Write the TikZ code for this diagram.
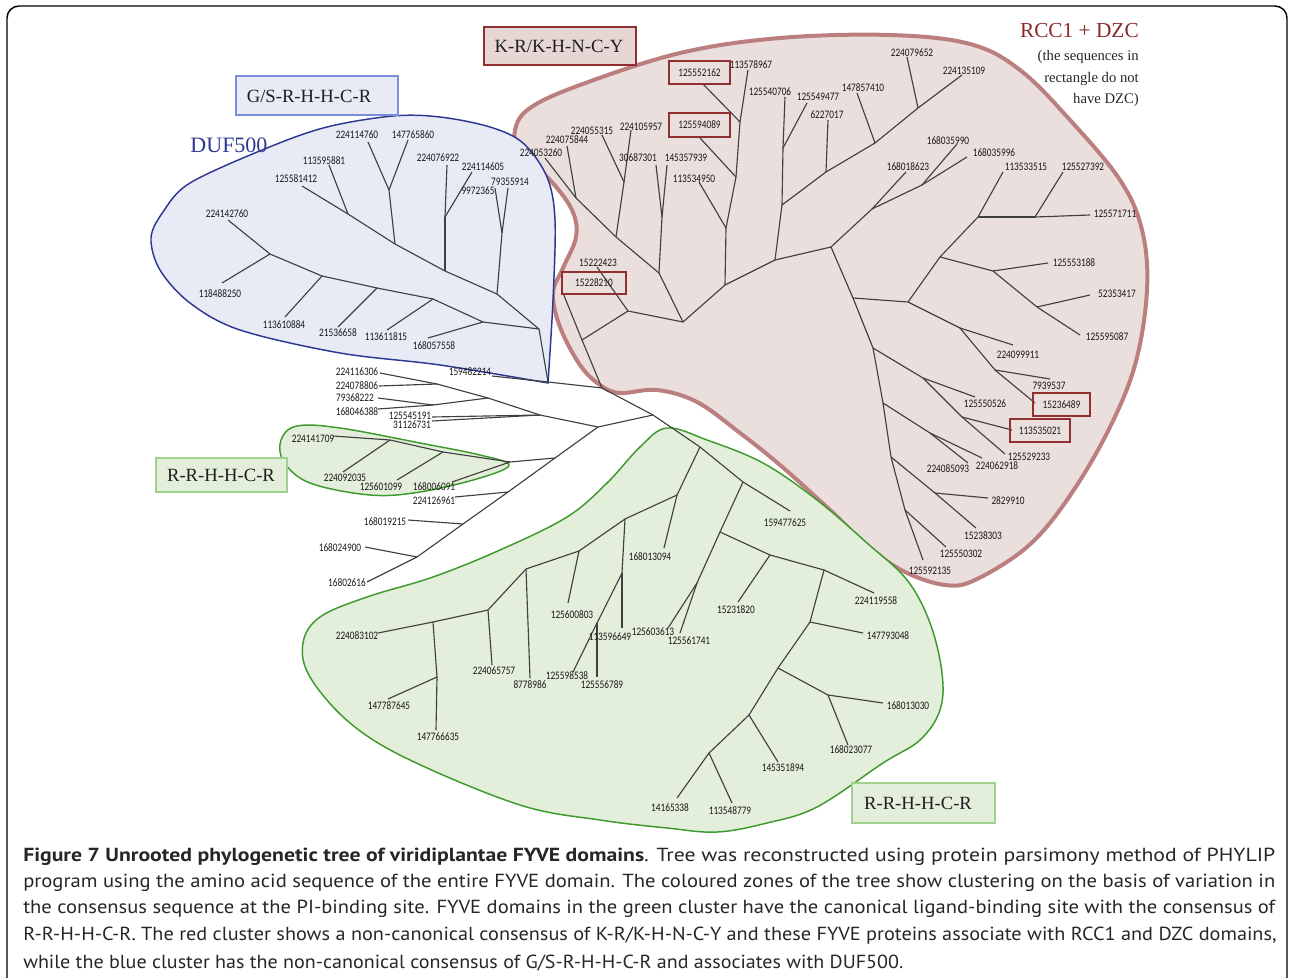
\documentclass[tikz,border=0pt]{standalone}
\usepackage{fontspec}
\usepackage{graphicx}
\setmainfont{Liberation Serif}
\newfontfamily\lblfont[FakeStretch=0.81]{Carlito}
\newfontfamily\capfont{PT Sans}
\definecolor{bluefillc}{HTML}{E8EBF6}
\definecolor{bluelinec}{HTML}{2B3990}
\definecolor{blueboxc}{HTML}{7C8EDB}
\definecolor{redfillc}{HTML}{EADFDD}
\definecolor{redlinec}{HTML}{BC7F7F}
\definecolor{redboxc}{HTML}{8E3030}
\definecolor{redtextc}{HTML}{8B2A2A}
\definecolor{krfillc}{HTML}{E6D7D4}
\definecolor{greenfillc}{HTML}{E3EEDB}
\definecolor{greenlinec}{HTML}{3E9A2C}
\definecolor{greenboxc}{HTML}{9FD18F}
\definecolor{branchc}{HTML}{404040}
\begin{document}
\begin{tikzpicture}[x=0.75pt,y=-0.75pt,
  br/.style={draw=branchc, line width=0.85pt},
  lbl/.style={font=\lblfont\fontsize{8.6}{10}\selectfont, inner sep=0pt, text=black!90},
  rbox/.style={lbl, draw=redboxc, line width=1.4pt},
  clab/.style={font=\fontsize{14}{16}\selectfont, inner sep=0pt, text=black!88},
  capline/.style={anchor=west, inner sep=0pt, font=\capfont\fontsize{14.2}{16}\selectfont, text=black!85}]
\useasboundingbox (0,0) rectangle (1289,978);
% frame
\draw[line width=1.1pt, rounded corners=9pt] (7,6) rectangle (1287,1010);

% ---------- cluster zones ----------
\path[fill=redfillc, draw=redlinec, line width=3pt] plot[smooth cycle, tension=0.6] coordinates {
 (520,153) (550,180) (572,210) (576,237) (563,268) (553,293) (560,327) (580,365) (600,385)
 (620,393) (657,390) (697,402) (740,433) (780,465) (830,510) (870,548) (905,572) (945,585)
 (975,580) (1027,547) (1067,500) (1107,433) (1135,365) (1147,290) (1142,230) (1120,180)
 (1070,120) (1020,70) (970,44) (890,35) (780,38) (680,53) (580,85) (530,108) (515,130)};
\path[fill=bluefillc, draw=bluelinec, line width=1.1pt] plot[smooth, tension=0.55] coordinates {
 (548,383) (440,365) (340,353) (240,330) (190,303) (160,270) (151,238) (163,212) (190,183)
 (267,148) (327,127) (393,116) (440,117) (490,127) (523,143) (547,177) (555,220) (553,300) (548,383)} -- cycle;
\path[fill=greenfillc, draw=greenlinec, line width=1.1pt] plot[smooth cycle, tension=0.6] coordinates {
 (303,643) (320,617) (367,597) (433,577) (500,550) (567,517) (607,483) (640,447) (667,428)
 (707,440) (763,463) (817,500) (867,543) (907,580) (930,623) (942,673) (940,710) (920,740)
 (883,763) (817,807) (767,823) (717,832) (667,828) (600,820) (520,805) (410,760) (350,723) (310,677)};
\path[fill=greenfillc, draw=greenlinec, line width=1.1pt] plot[smooth cycle, tension=0.6] coordinates {
 (281,440) (297,426) (340,428) (420,443) (480,455) (509,465) (480,478) (420,492) (370,495) (310,483) (284,462)};

% ---------- coordinates ----------
% blue
\coordinate (J0) at (548,382); \coordinate (B1) at (539,329); \coordinate (B2) at (497,294);
\coordinate (B3) at (483,322); \coordinate (B4) at (433,299); \coordinate (B4b) at (377,288);
\coordinate (B4c) at (322,276); \coordinate (B4d) at (270,254); \coordinate (B5) at (502,233);
\coordinate (B6) at (445,271); \coordinate (B7) at (445,217); \coordinate (B8) at (395,244);
\coordinate (B9) at (389,190); \coordinate (B10) at (348,214);
\coordinate (l168057558) at (428,338); \coordinate (l113611815) at (387,330);
\coordinate (l21536658) at (338,327); \coordinate (l113610884) at (285,317);
\coordinate (l118488250) at (222,283); \coordinate (l224142760) at (228,220);
\coordinate (l9972365) at (495,188); \coordinate (l79355914) at (508,188);
\coordinate (l224076922) at (447,165); \coordinate (l224114605) at (472,172);
\coordinate (l224114760) at (368,142); \coordinate (l147765860) at (408,140);
\coordinate (l113595881) at (329,165); \coordinate (l125581412) at (302,186);
% middle / left
\coordinate (l159482214) at (492,376); \coordinate (J1) at (602,388);
\coordinate (J2) at (653,415); \coordinate (J3) at (598,427);
\coordinate (Na) at (437,384); \coordinate (Nb) at (488,398); \coordinate (Nc) at (433,405);
\coordinate (Nd) at (540,415);
\coordinate (l224116306) at (380,373); \coordinate (l224078806) at (379,386);
\coordinate (l79368222) at (378,398); \coordinate (l168046388) at (378,409);
\coordinate (l125545191) at (432,417); \coordinate (l31126731) at (432,421);
\coordinate (Ne) at (555,458); \coordinate (Nf) at (508,492); \coordinate (Ng) at (463,524);
\coordinate (Nh) at (417,557); \coordinate (l16802616) at (367,582);
\coordinate (G0) at (510,462); \coordinate (G1) at (443,452); \coordinate (G2) at (390,440);
\coordinate (l168006091) at (452,482); \coordinate (l125601099) at (397,480);
\coordinate (l224141709) at (333,436); \coordinate (l224092035) at (343,472);
\coordinate (l224126961) at (455,497); \coordinate (l168019215) at (408,520);
\coordinate (l168024900) at (365,547);
% green
\coordinate (K1) at (700,447); \coordinate (K2) at (677,495); \coordinate (K3) at (743,482);
\coordinate (K4) at (720,532); \coordinate (K5) at (697,583); \coordinate (K6) at (770,555);
\coordinate (K7) at (824,570); \coordinate (K8) at (810,622); \coordinate (K9) at (778,668);
\coordinate (K10) at (828,695); \coordinate (K11) at (749,715); \coordinate (K12) at (709,753);
\coordinate (K13) at (625,519); \coordinate (K14) at (622,573); \coordinate (K15) at (579,551);
\coordinate (K16) at (597,623); \coordinate (K17) at (526,569); \coordinate (K18) at (488,610);
\coordinate (K19) at (433,622); \coordinate (K20) at (437,677);
\coordinate (l159477625) at (790,511); \coordinate (l125603613) at (668,628);
\coordinate (l125561741) at (680,633); \coordinate (l15231820) at (738,602);
\coordinate (l224119558) at (874,593); \coordinate (l147793048) at (863,633);
\coordinate (l168013030) at (883,703); \coordinate (l168023077) at (848,745);
\coordinate (l145351894) at (778,762); \coordinate (l14165338) at (677,798);
\coordinate (l113548779) at (732,803); \coordinate (l168013094) at (664,548);
\coordinate (l113596649) at (622,628); \coordinate (l125598538) at (573,672);
\coordinate (l125556789) at (597,677); \coordinate (l125600803) at (568,603);
\coordinate (l8778986) at (530,678); \coordinate (l224065757) at (492,665);
\coordinate (l224083102) at (378,633); \coordinate (l147787645) at (388,699);
\coordinate (l147766635) at (436,730);
% red
\coordinate (R1) at (582,340); \coordinate (R2) at (628,311); \coordinate (R3) at (683,322);
\coordinate (R4) at (659,273); \coordinate (R5) at (725,285); \coordinate (R6) at (616,237);
\coordinate (R7) at (662,217); \coordinate (R8) at (576,198); \coordinate (R9) at (624,182);
\coordinate (R10) at (726,228); \coordinate (R11) at (775,260); \coordinate (R12) at (736,177);
\coordinate (R13) at (740,122); \coordinate (R14) at (782,205); \coordinate (R15) at (831,247);
\coordinate (R16) at (783,148); \coordinate (R17) at (826,172); \coordinate (R18) at (875,143);
\coordinate (R19) at (918,108); \coordinate (R20) at (872,209); \coordinate (R21) at (853,298);
\coordinate (R22) at (908,302); \coordinate (R23) at (922,185); \coordinate (R24) at (940,257);
\coordinate (R25) at (960,328); \coordinate (R26) at (978,217); \coordinate (R27) at (993,271);
\coordinate (R28) at (1035,217); \coordinate (R29) at (1037,307); \coordinate (R30) at (995,370);
\coordinate (R31) at (873,348); \coordinate (R32) at (923,378); \coordinate (R33) at (883,403);
\coordinate (R34) at (962,417); \coordinate (R35) at (930,433); \coordinate (R36) at (891,457);
\coordinate (R37) at (935,493); \coordinate (R38) at (905,510);
\coordinate (l15228210) at (563,293); \coordinate (l15222423) at (597,267);
\coordinate (l30687301) at (656,165); \coordinate (l145357939) at (667,165);
\coordinate (l224055315) at (602,135); \coordinate (l224105957) at (631,130);
\coordinate (l224075844) at (567,146); \coordinate (l224053260) at (545,158);
\coordinate (l113534950) at (699,182); \coordinate (l125594089) at (700,138);
\coordinate (l125552162) at (703,84); \coordinate (l113578967) at (748,70);
\coordinate (l125540706) at (785,97); \coordinate (l125549477) at (807,103);
\coordinate (l6227017) at (828,120); \coordinate (l147857410) at (857,93);
\coordinate (l224079652) at (907,57); \coordinate (l224135109) at (962,75);
\coordinate (l168018623) at (906,172); \coordinate (l168035990) at (957,144);
\coordinate (l168035996) at (967,157); \coordinate (l113533515) at (1003,172);
\coordinate (l125527392) at (1063,172); \coordinate (l125571711) at (1090,215);
\coordinate (l125553188) at (1048,263); \coordinate (l52353417) at (1090,295);
\coordinate (l125595087) at (1080,335); \coordinate (l224099911) at (1013,345);
\coordinate (l7939537) at (1050,379); \coordinate (l15236489) at (1035,403);
\coordinate (l125550526) at (975,397); \coordinate (l113535021) at (1012,430);
\coordinate (l125529233) at (1005,454); \coordinate (l224085093) at (968,463);
\coordinate (l224062918) at (982,458); \coordinate (l2829910) at (988,498);
\coordinate (l15238303) at (976,528); \coordinate (l125550302) at (946,547);
\coordinate (l125592135) at (923,560);

% ---------- branches ----------
\foreach \a/\b in {J0/B1, B1/B2, B1/B3, B3/l168057558, B3/B4, B4/l113611815, B4/B4b,
  B4b/l21536658, B4b/B4c, B4c/l113610884, B4c/B4d, B4d/l118488250, B4d/l224142760,
  B2/B5, B5/l9972365, B5/l79355914, B2/B6, B6/B7, B7/l224076922, B7/l224114605,
  B6/B8, B8/B9, B9/l224114760, B9/l147765860, B8/B10, B10/l113595881, B10/l125581412,
  J0/l159482214, J0/J1, J1/J2, J2/J3, J1/R1, J2/K1,
  J3/Nd, Nd/Nb, Nb/Na, Na/l224116306, Na/l224078806, Nb/Nc, Nc/l79368222, Nc/l168046388,
  Nd/l125545191, Nd/l31126731, J3/Ne, Ne/Nf, Nf/Ng, Ng/Nh, Nh/l16802616, Ne/G0,
  G0/G1, G0/l168006091, G1/G2, G1/l125601099, G2/l224141709, G2/l224092035,
  Nf/l224126961, Ng/l168019215, Nh/l168024900}
  \draw[br] (\a) -- (\b);
\foreach \a/\b in {K1/K2, K1/K3, K3/l159477625, K3/K4, K4/K5, K4/K6, K5/l125603613,
  K5/l125561741, K6/l15231820, K6/K7, K7/l224119558, K7/K8, K8/l147793048, K8/K9,
  K9/K10, K9/K11, K10/l168013030, K10/l168023077, K11/l145351894, K11/K12,
  K12/l14165338, K12/l113548779, K2/l168013094, K2/K13, K13/K14, K13/K15,
  K14/l113596649, K14/K16, K16/l125598538, K16/l125556789, K15/l125600803, K15/K17,
  K17/l8778986, K17/K18, K18/l224065757, K18/K19, K19/l224083102, K19/K20,
  K20/l147787645, K20/l147766635}
  \draw[br] (\a) -- (\b);
\foreach \a/\b in {R1/l15228210, R1/R2, R2/l15222423, R2/R3, R3/R4, R3/R5, R4/R6, R4/R7,
  R7/l30687301, R7/l145357939, R6/R8, R6/R9, R9/l224055315, R9/l224105957,
  R8/l224075844, R8/l224053260, R5/R10, R5/R11, R10/l113534950, R10/R12,
  R12/l125594089, R12/R13, R13/l125552162, R13/l113578967, R11/R14, R11/R15,
  R14/R16, R14/R17, R16/l125540706, R16/l125549477, R17/l6227017, R17/R18,
  R18/l147857410, R18/R19, R19/l224079652, R19/l224135109, R15/R20, R15/R21,
  R20/l168018623, R20/R23, R23/l168035990, R23/l168035996, R21/R22, R21/R31,
  R22/R24, R22/R25, R24/R26, R24/R27, R26/l113533515, R26/R28, R28/l125527392,
  R28/l125571711, R27/l125553188, R27/R29, R29/l52353417, R29/l125595087,
  R25/l224099911, R25/R30, R30/l7939537, R30/l15236489, R31/R32, R31/R33,
  R32/l125550526, R32/R34, R34/l113535021, R34/l125529233, R33/R35, R33/R36,
  R35/l224085093, R35/l224062918, R36/R37, R36/R38, R37/l2829910, R37/l15238303,
  R38/l125550302, R38/l125592135}
  \draw[br] (\a) -- (\b);

% ---------- leaf labels ----------
% blue
\node[lbl] (t168057558) at (434,346) {168057558};
\node[lbl] (t113611815) at (386,337) {113611815};
\node[lbl] (t21536658) at (338,333) {21536658};
\node[lbl] (t113610884) at (284,325) {113610884};
\node[lbl] (t118488250) at (220,294) {118488250};
\node[lbl] (t224142760) at (227,214) {224142760};
\node[lbl] (t9972365) at (478,191) {9972365};
\node[lbl] (t79355914) at (510,182) {79355914};
\node[lbl] (t224076922) at (438,158) {224076922};
\node[lbl] (t224114605) at (483,167) {224114605};
\node[lbl] (t224114760) at (357,135) {224114760};
\node[lbl] (t147765860) at (413,135) {147765860};
\node[lbl] (t113595881) at (324,161) {113595881};
\node[lbl] (t125581412) at (296,179) {125581412};
% middle / left
\node[lbl] (t159482214) at (470,372) {159482214};
\node[lbl] (t224116306) at (357,372) {224116306};
\node[lbl] (t224078806) at (357,386) {224078806};
\node[lbl] (t79368222) at (355,398) {79368222};
\node[lbl] (t168046388) at (357,412) {168046388};
\node[lbl] (t125545191) at (410,416) {125545191};
\node[lbl] (t31126731) at (412,425) {31126731};
\node[lbl] (t224141709) at (313,439) {224141709};
\node[lbl] (t224092035) at (345,478) {224092035};
\node[lbl] (t125601099) at (381,487) {125601099};
\node[lbl] (t168006091) at (434,487) {168006091};
\node[lbl] (t224126961) at (434,501) {224126961};
\node[lbl] (t168019215) at (385,522) {168019215};
\node[lbl] (t168024900) at (340,548) {168024900};
\node[lbl] (t16802616) at (347,583) {16802616};
% green
\node[lbl] (t159477625) at (785,523) {159477625};
\node[lbl] (t125603613) at (653,632) {125603613};
\node[lbl] (t125561741) at (689,641) {125561741};
\node[lbl] (t15231820) at (736,610) {15231820};
\node[lbl] (t224119558) at (876,601) {224119558};
\node[lbl] (t147793048) at (888,636) {147793048};
\node[lbl] (t168013030) at (908,706) {168013030};
\node[lbl] (t168023077) at (851,750) {168023077};
\node[lbl] (t145351894) at (783,768) {145351894};
\node[lbl] (t14165338) at (670,808) {14165338};
\node[lbl] (t113548779) at (730,811) {113548779};
\node[lbl] (t168013094) at (650,557) {168013094};
\node[lbl] (t113596649) at (610,637) {113596649};
\node[lbl] (t125598538) at (567,676) {125598538};
\node[lbl] (t125556789) at (602,685) {125556789};
\node[lbl] (t125600803) at (572,615) {125600803};
\node[lbl] (t8778986) at (530,685) {8778986};
\node[lbl] (t224065757) at (494,671) {224065757};
\node[lbl] (t224083102) at (357,636) {224083102};
\node[lbl] (t147787645) at (389,706) {147787645};
\node[lbl] (t147766635) at (438,737) {147766635};
% red
\node[rbox, minimum width=48pt, minimum height=16.5pt] (t15228210) at (594,283) {15228210};
\node[lbl] (t15222423) at (598,263) {15222423};
\node[lbl] (t30687301) at (638,158) {30687301};
\node[lbl] (t145357939) at (686,158) {145357939};
\node[lbl] (t224055315) at (592,131) {224055315};
\node[lbl] (t224105957) at (641,127) {224105957};
\node[lbl] (t224075844) at (567,140) {224075844};
\node[lbl] (t224053260) at (541,153) {224053260};
\node[lbl] (t113534950) at (694,179) {113534950};
\node[rbox, minimum width=45.75pt, minimum height=17.5pt] (t125594089) at (699.5,125) {125594089};
\node[rbox, minimum width=45.75pt, minimum height=17.25pt] (t125552162) at (699.5,72.5) {125552162};
\node[lbl] (t113578967) at (751,65) {113578967};
\node[lbl] (t125540706) at (770,92) {125540706};
\node[lbl] (t125549477) at (818,97) {125549477};
\node[lbl] (t6227017) at (827,115) {6227017};
\node[lbl] (t147857410) at (863,88) {147857410};
\node[lbl] (t224079652) at (912,53) {224079652};
\node[lbl] (t224135109) at (964,71) {224135109};
\node[lbl] (t168018623) at (908,167) {168018623};
\node[lbl] (t168035990) at (948,141) {168035990};
\node[lbl] (t168035996) at (994,153) {168035996};
\node[lbl] (t113533515) at (1026,167) {113533515};
\node[lbl] (t125527392) at (1083,167) {125527392};
\node[lbl] (t125571711) at (1115,214) {125571711};
\node[lbl] (t125553188) at (1074,263) {125553188};
\node[lbl] (t52353417) at (1117,294) {52353417};
\node[lbl] (t125595087) at (1107,337) {125595087};
\node[lbl] (t224099911) at (1018,355) {224099911};
\node[lbl] (t7939537) at (1049,386) {7939537};
\node[rbox, minimum width=42.75pt, minimum height=17.25pt] (t15236489) at (1061.5,404.5) {15236489};
\node[lbl] (t125550526) at (985,404) {125550526};
\node[rbox, minimum width=45pt, minimum height=17.25pt] (t113535021) at (1040,430.5) {113535021};
\node[lbl] (t125529233) at (1029,457) {125529233};
\node[lbl] (t224085093) at (948,469) {224085093};
\node[lbl] (t224062918) at (997,466) {224062918};
\node[lbl] (t2829910) at (1008,501) {2829910};
\node[lbl] (t15238303) at (983,536) {15238303};
\node[lbl] (t125550302) at (961,554) {125550302};
\node[lbl] (t125592135) at (930,571) {125592135};

% ---------- cluster captions ----------
\node[draw=blueboxc, fill=bluefillc, line width=1.2pt, minimum width=121.5pt, minimum height=29.25pt] (gsbox) at (317,95.5) {};
\node[clab] (gstext) at (309,96) {G/S-R-H-H-C-R};
\node[font=\fontsize{16.5}{18}\selectfont, text=bluelinec, inner sep=0pt] (duf) at (229,145) {DUF500};
\node[draw=redboxc, fill=krfillc, line width=1.4pt, minimum width=114pt, minimum height=28.5pt] (krbox) at (560,46) {};
\node[clab] (krtext) at (559,46) {K-R/K-H-N-C-Y};
\node[font=\fontsize{16}{18}\selectfont, text=redtextc, inner sep=0pt, anchor=east] (rcc) at (1139,31) {RCC1 + DZC};
\node[font=\fontsize{11}{13}\selectfont, text=black!85, inner sep=0pt, anchor=east] (rcc1) at (1139,57) {(the sequences in};
\node[font=\fontsize{11}{13}\selectfont, text=black!85, inner sep=0pt, anchor=east] (rcc2) at (1139,79) {rectangle do not};
\node[font=\fontsize{11}{13}\selectfont, text=black!85, inner sep=0pt, anchor=east] (rcc3) at (1139,100) {have DZC)};
\node[draw=greenboxc, fill=greenfillc, line width=1.2pt, minimum width=98.25pt, minimum height=25.5pt] (rrbox1) at (221.5,475) {};
\node[clab] (rrtext1) at (221,475) {R-R-H-H-C-R};
\node[draw=greenboxc, fill=greenfillc, line width=1.2pt, minimum width=107.25pt, minimum height=30pt] (rrbox2) at (923.5,803) {};
\node[clab] (rrtext2) at (918,803) {R-R-H-H-C-R};

% ---------- figure caption ----------
\node[capline] (cap1) at (23,857) {\resizebox{939pt}{\height}{\textbf{Figure 7 Unrooted phylogenetic tree of viridiplantae FYVE domains}. Tree was reconstructed using protein parsimony method of PHYLIP}};
\node[capline] (cap2) at (23,883) {\resizebox{939pt}{\height}{program using the amino acid sequence of the entire FYVE domain. The coloured zones of the tree show clustering on the basis of variation in}};
\node[capline] (cap3) at (23,909) {\resizebox{939pt}{\height}{the consensus sequence at the PI-binding site. FYVE domains in the green cluster have the canonical ligand-binding site with the consensus of}};
\node[capline] (cap4) at (23,936) {\resizebox{940pt}{\height}{R-R-H-H-C-R. The red cluster shows a non-canonical consensus of K-R/K-H-N-C-Y and these FYVE proteins associate with RCC1 and DZC domains,}};
\node[capline] (cap5) at (23,963) {\resizebox{660pt}{\height}{while the blue cluster has the non-canonical consensus of G/S-R-H-H-C-R and associates with DUF500.}};
\end{tikzpicture}
\end{document}
